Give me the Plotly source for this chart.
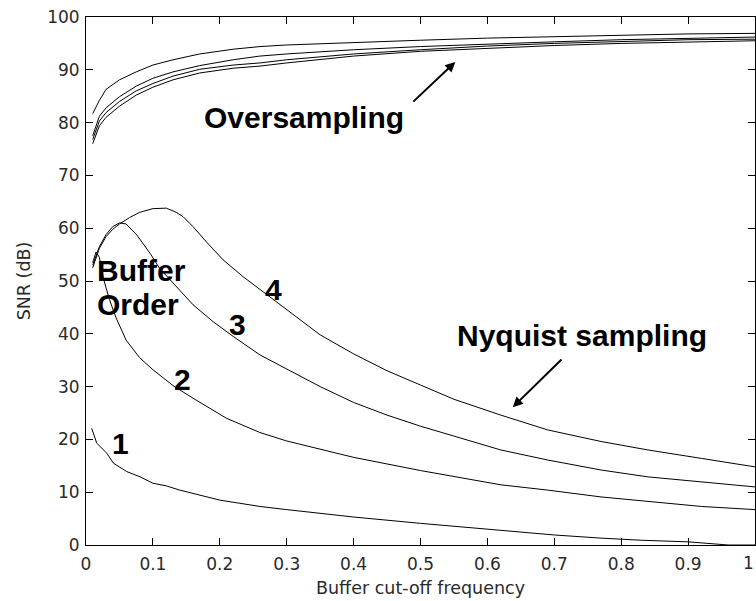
import plotly.graph_objects as go

# Oversampling curves (upper family), one per buffer order
os_x = [0.01, 0.02, 0.03, 0.05, 0.075, 0.1, 0.13, 0.17, 0.22, 0.26, 0.3, 0.4, 0.5, 0.6, 0.7, 0.8, 0.9, 1.0]
os_1 = [81.7, 84.2, 86.3, 88.1, 89.6, 90.9, 91.9, 93.0, 93.9, 94.4, 94.7, 95.2, 95.6, 96.0, 96.3, 96.6, 96.8, 96.9]
os_2 = [77.5, 81.2, 82.8, 84.9, 86.9, 88.4, 89.6, 90.8, 91.9, 92.6, 93.0, 93.8, 94.4, 94.9, 95.3, 95.7, 96.0, 96.2]
os_3 = [76.8, 80.3, 81.9, 84.0, 86.0, 87.4, 88.8, 90.1, 90.9, 91.3, 91.9, 93.0, 93.8, 94.5, 95.0, 95.4, 95.7, 95.8]
os_4 = [76.0, 79.4, 81.0, 83.1, 85.2, 86.7, 88.1, 89.4, 90.3, 90.7, 91.3, 92.6, 93.5, 94.1, 94.6, 95.0, 95.3, 95.5]

# Nyquist sampling curves, buffer orders 1..4
ny1_x = [0.0085, 0.016, 0.031, 0.041, 0.061, 0.081, 0.1, 0.12, 0.14, 0.17, 0.2, 0.23, 0.26, 0.3, 0.4, 0.5, 0.62, 0.7, 0.77, 0.83, 0.9, 0.96, 1.0]
ny1_y = [22.1, 19.3, 17.4, 15.5, 13.9, 12.9, 11.7, 11.2, 10.4, 9.5, 8.5, 7.9, 7.3, 6.7, 5.3, 4.1, 2.8, 1.9, 1.3, 0.9, 0.6, 0.0, 0.0]

ny2_x = [0.01, 0.015, 0.02, 0.026, 0.035, 0.045, 0.06, 0.08, 0.1, 0.13, 0.16, 0.21, 0.26, 0.3, 0.4, 0.5, 0.62, 0.69, 0.77, 0.84, 0.92, 1.0]
ny2_y = [53.5, 55.5, 54.5, 50.5, 46.5, 43.0, 38.8, 35.5, 33.2, 30.2, 27.8, 24.0, 21.3, 19.7, 16.6, 14.1, 11.4, 10.4, 9.1, 8.2, 7.3, 6.7]

ny3_x = [0.01, 0.02, 0.03, 0.04, 0.05, 0.06, 0.076, 0.096, 0.11, 0.13, 0.16, 0.19, 0.22, 0.26, 0.3, 0.35, 0.4, 0.45, 0.5, 0.56, 0.62, 0.69, 0.77, 0.84, 0.92, 1.0]
ny3_y = [53.0, 56.5, 58.8, 60.3, 61.0, 60.8, 58.7, 55.2, 52.4, 49.6, 45.5, 42.3, 39.5, 36.0, 33.3, 30.0, 27.0, 24.6, 22.5, 20.3, 18.0, 16.1, 14.2, 12.9, 12.0, 11.0]

ny4_x = [0.01, 0.02, 0.03, 0.04, 0.05, 0.065, 0.08, 0.1, 0.12, 0.135, 0.145, 0.16, 0.18, 0.205, 0.235, 0.27, 0.31, 0.35, 0.4, 0.45, 0.5, 0.55, 0.62, 0.69, 0.77, 0.84, 0.92, 1.0]
ny4_y = [52.5, 56.2, 58.4, 59.8, 60.8, 62.0, 63.0, 63.7, 63.8, 63.0, 62.2, 60.3, 57.4, 54.0, 50.8, 47.5, 43.6, 39.8, 36.2, 33.0, 30.3, 27.6, 24.6, 21.8, 19.6, 18.0, 16.4, 14.8]

x_ticks = [0, 0.1, 0.2, 0.3, 0.4, 0.5, 0.6, 0.7, 0.8, 0.9, 1]
y_ticks = [0, 10, 20, 30, 40, 50, 60, 70, 80, 90, 100]

fig = go.Figure()
line_style = dict(color="black", width=1)
for ys in (os_1, os_2, os_3, os_4):
    fig.add_trace(go.Scatter(x=os_x, y=ys, mode="lines", line=line_style, hoverinfo="skip"))
for xs, ys in ((ny1_x, ny1_y), (ny2_x, ny2_y), (ny3_x, ny3_y), (ny4_x, ny4_y)):
    fig.add_trace(go.Scatter(x=xs, y=ys, mode="lines", line=line_style, hoverinfo="skip"))

bold = dict(family="Liberation Sans", size=30, color="black")
labels = [
    ("<b>Oversampling</b>", 0.326, 80.9, "center"),
    ("<b>Nyquist sampling</b>", 0.741, 39.7, "center"),
    ("<b>Buffer</b>", 0.013, 52.0, "left"),
    ("<b>Order</b>", 0.013, 45.5, "left"),
    ("<b>1</b>", 0.051, 19.3, "center"),
    ("<b>2</b>", 0.144, 31.3, "center"),
    ("<b>3</b>", 0.226, 41.7, "center"),
    ("<b>4</b>", 0.280, 48.3, "center"),
]
for text, x, y, xa in labels:
    fig.add_annotation(x=x, y=y, xref="x", yref="y", text=text, showarrow=False,
                       xanchor=xa, yanchor="middle", font=bold)

# arrows pointing at each curve family
arrows = [
    (0.552, 91.5, 0.487, 83.7),
    (0.638, 26.1, 0.713, 35.4),
]
for hx, hy, tx, ty in arrows:
    fig.add_annotation(x=hx, y=hy, ax=tx, ay=ty, xref="x", yref="y", axref="x", ayref="y",
                       text="", showarrow=True, arrowhead=2, arrowsize=1.0, arrowwidth=2,
                       arrowcolor="black")

tick_font = dict(family="DejaVu Sans", size=17, color="#2a2a2a")
title_font = dict(family="DejaVu Sans", size=17.5, color="#2a2a2a")

# the last x tick label sits on the page edge, so it is drawn right-aligned to stay whole
x_ticktext = [str(v) for v in x_ticks]
x_ticktext[-1] = ""
fig.add_annotation(x=x_ticks[-1], y=-0.034, xref="x", yref="paper", text=str(x_ticks[-1]),
                   showarrow=False, xanchor="right", yanchor="middle", font=tick_font,
                   borderpad=0)

fig.update_layout(
    width=756, height=601,
    margin=dict(l=86, r=1, t=17, b=56, autoexpand=False),
    paper_bgcolor="white", plot_bgcolor="white",
    showlegend=False,
    xaxis=dict(
        range=[0, 1], tickvals=x_ticks, ticktext=x_ticktext,
        ticks="inside", ticklen=7, tickcolor="black", showgrid=False, zeroline=False,
        showline=True, linecolor="black", linewidth=1, mirror="ticks",
        tickfont=tick_font, ticklabelstandoff=4,
        automargin=False,
        title=dict(text="Buffer cut-off frequency", font=title_font, standoff=8),
    ),
    yaxis=dict(
        range=[0, 100], tickvals=y_ticks,
        ticks="inside", ticklen=7, tickcolor="black", showgrid=False, zeroline=False,
        showline=True, linecolor="black", linewidth=1, mirror="ticks",
        tickfont=tick_font, ticklabelstandoff=2, automargin=False,
        title=dict(text="SNR (dB)", font=title_font, standoff=12),
    ),
)

fig.write_html("out.html")
